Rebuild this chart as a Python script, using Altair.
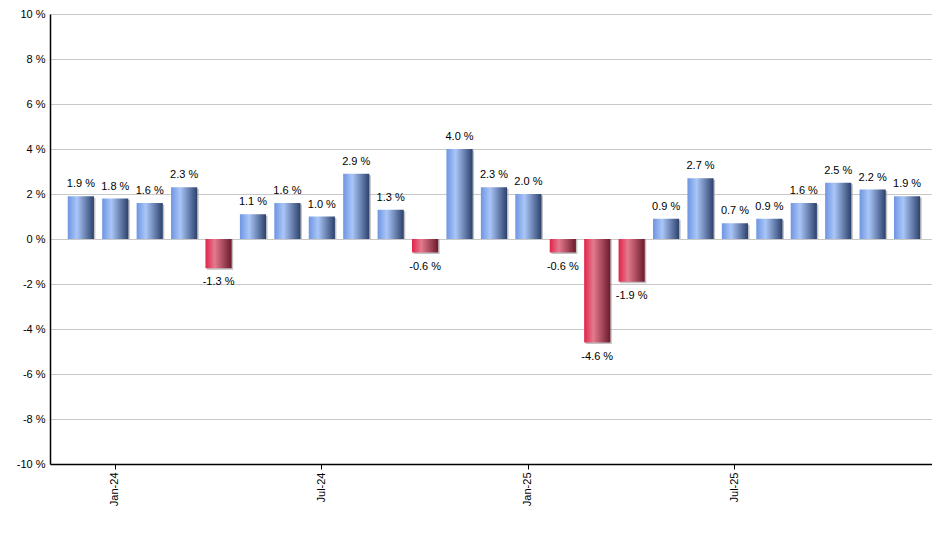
import altair as alt
import pandas as pd

months = ["Dec-23", "Jan-24", "Feb-24", "Mar-24", "Apr-24", "May-24", "Jun-24", "Jul-24",
          "Aug-24", "Sep-24", "Oct-24", "Nov-24", "Dec-24", "Jan-25", "Feb-25", "Mar-25",
          "Apr-25", "May-25", "Jun-25", "Jul-25", "Aug-25", "Sep-25", "Oct-25", "Nov-25", "Dec-25"]
values = [1.9, 1.8, 1.6, 2.3, -1.3, 1.1, 1.6, 1.0, 2.9, 1.3, -0.6, 4.0, 2.3, 2.0,
          -0.6, -4.6, -1.9, 0.9, 2.7, 0.7, 0.9, 1.6, 2.5, 2.2, 1.9]
tick_labels = ["Jan-24", "Jul-24", "Jan-25", "Jul-25"]

df = pd.DataFrame({"month": months, "value": values})
df["label"] = df["value"].map(lambda v: f"{v:.1f} %")

FONT = "Liberation Sans"

blue = alt.Gradient(gradient="linear", x1=0, x2=1, y1=0, y2=0,
                    stops=[alt.GradientStop(offset=0, color="#6e95e2"),
                           alt.GradientStop(offset=0.35, color="#aac6f8"),
                           alt.GradientStop(offset=1, color="#2c416c")])
red = alt.Gradient(gradient="linear", x1=0, x2=1, y1=0, y2=0,
                   stops=[alt.GradientStop(offset=0, color="#e0244a"),
                          alt.GradientStop(offset=0.35, color="#e47a8e"),
                          alt.GradientStop(offset=1, color="#6c1a2c")])

x = alt.X("month:N", sort=months, title=None,
          scale=alt.Scale(paddingInner=0.24, paddingOuter=0.43, align=0.6),
          axis=alt.Axis(values=tick_labels, labelAngle=270, labelFont=FONT, labelFontSize=11,
                        labelColor="#000", domainColor="#000", domainWidth=1.5,
                        tickColor="#000", tickSize=5, labelPadding=3, grid=False))
y = alt.Y("value:Q", title=None,
          scale=alt.Scale(domain=[-10, 10], nice=False),
          axis=alt.Axis(values=list(range(-10, 11, 2)), labelExpr="datum.value + ' %'",
                        labelFont=FONT, labelFontSize=11, labelColor="#000",
                        domainColor="#000", domainWidth=1.5, tickSize=0, labelPadding=5,
                        gridColor="#c8c8c8", gridWidth=1))

base = alt.Chart(df)

shadow = base.mark_bar(fill="#9a9a9a", opacity=0.6, xOffset=1.5, yOffset=1.5).encode(
    x=x, y=y, y2=alt.datum(0))
pos = base.transform_filter("datum.value >= 0").mark_bar(fill=blue).encode(
    x=x, y=y, y2=alt.datum(0))
neg = base.transform_filter("datum.value < 0").mark_bar(fill=red).encode(
    x=x, y=y, y2=alt.datum(0))
pos_text = base.transform_filter("datum.value >= 0").mark_text(
    font=FONT, fontSize=11, color="#000", dy=-9, baseline="alphabetic").encode(
    x=x, y=y, text="label:N")
neg_text = base.transform_filter("datum.value < 0").mark_text(
    font=FONT, fontSize=11, color="#000", dy=8, baseline="top").encode(
    x=x, y=y, text="label:N")

chart = alt.layer(shadow, pos, neg, pos_text, neg_text).properties(
    width=882, height=450,
    autosize=alt.AutoSizeParams(type="none"),
    padding={"left": 42, "top": 6, "right": 0, "bottom": 70},
).configure_view(stroke=None).configure(background="white")

chart.save("out.html", embed_options={"renderer": "svg", "actions": False})
